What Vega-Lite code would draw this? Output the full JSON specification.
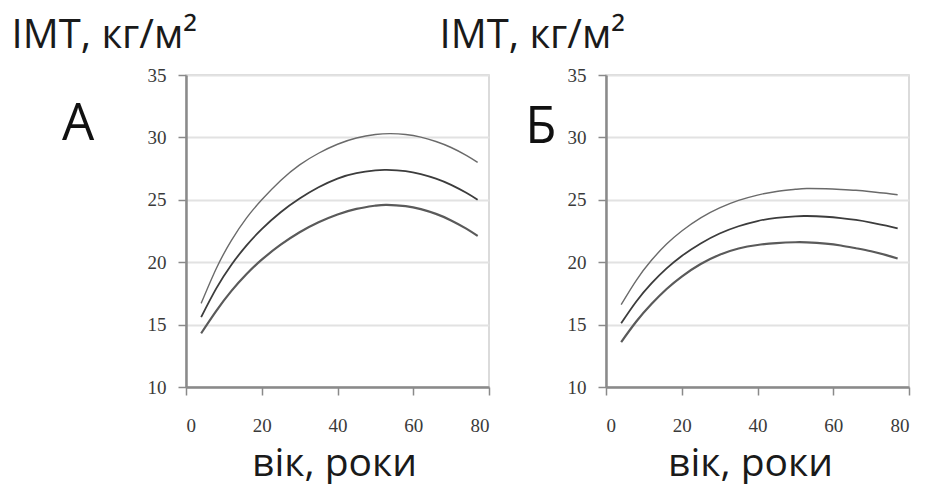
{
  "$schema": "https://vega.github.io/schema/vega-lite/v6.json",
  "background": "white",
  "padding": {"left": 10, "top": 14, "right": 10, "bottom": 0},
  "bounds": "flush",
  "spacing": 117,
  "config": {
    "view": {"stroke": "#cfcfcf", "strokeWidth": 1.5},
    "axis": {
      "labelFont": "Liberation Serif", "labelFontSize": 19, "labelColor": "#3a3a3a",
      "domainColor": "#8a8a8a", "domainWidth": 2.5, "tickColor": "#8a8a8a", "tickWidth": 1.5, "tickSize": 8,
      "titleFont": "Open Sans", "titleFontWeight": "normal", "titleColor": "#1a1a1a",
      "gridColor": "#e2e2e2", "gridWidth": 2
    }
  },
  "datasets": {
    "curves": [
      {"panel":"A","s":"upper","age":4,"bmi":16.7},{"panel":"A","s":"upper","age":8,"bmi":19.5},{"panel":"A","s":"upper","age":12,"bmi":21.75},{"panel":"A","s":"upper","age":16,"bmi":23.55},{"panel":"A","s":"upper","age":20,"bmi":25.0},{"panel":"A","s":"upper","age":25,"bmi":26.55},{"panel":"A","s":"upper","age":30,"bmi":27.8},{"panel":"A","s":"upper","age":35,"bmi":28.73},{"panel":"A","s":"upper","age":40,"bmi":29.45},{"panel":"A","s":"upper","age":45,"bmi":29.95},{"panel":"A","s":"upper","age":50,"bmi":30.23},{"panel":"A","s":"upper","age":54,"bmi":30.3},{"panel":"A","s":"upper","age":58,"bmi":30.23},{"panel":"A","s":"upper","age":62,"bmi":30.02},{"panel":"A","s":"upper","age":66,"bmi":29.67},{"panel":"A","s":"upper","age":70,"bmi":29.19},{"panel":"A","s":"upper","age":74,"bmi":28.56},{"panel":"A","s":"upper","age":77,"bmi":28.0},
      {"panel":"A","s":"median","age":4,"bmi":15.6},{"panel":"A","s":"median","age":8,"bmi":17.9},{"panel":"A","s":"median","age":12,"bmi":19.8},{"panel":"A","s":"median","age":16,"bmi":21.35},{"panel":"A","s":"median","age":20,"bmi":22.65},{"panel":"A","s":"median","age":25,"bmi":24.0},{"panel":"A","s":"median","age":30,"bmi":25.1},{"panel":"A","s":"median","age":35,"bmi":26.0},{"panel":"A","s":"median","age":40,"bmi":26.7},{"panel":"A","s":"median","age":45,"bmi":27.13},{"panel":"A","s":"median","age":50,"bmi":27.36},{"panel":"A","s":"median","age":53,"bmi":27.4},{"panel":"A","s":"median","age":58,"bmi":27.3},{"panel":"A","s":"median","age":62,"bmi":27.06},{"panel":"A","s":"median","age":66,"bmi":26.7},{"panel":"A","s":"median","age":70,"bmi":26.2},{"panel":"A","s":"median","age":74,"bmi":25.56},{"panel":"A","s":"median","age":77,"bmi":25.0},
      {"panel":"A","s":"lower","age":4,"bmi":14.3},{"panel":"A","s":"lower","age":8,"bmi":16.1},{"panel":"A","s":"lower","age":12,"bmi":17.7},{"panel":"A","s":"lower","age":16,"bmi":19.05},{"panel":"A","s":"lower","age":20,"bmi":20.2},{"panel":"A","s":"lower","age":25,"bmi":21.4},{"panel":"A","s":"lower","age":30,"bmi":22.4},{"panel":"A","s":"lower","age":35,"bmi":23.2},{"panel":"A","s":"lower","age":40,"bmi":23.82},{"panel":"A","s":"lower","age":45,"bmi":24.27},{"panel":"A","s":"lower","age":50,"bmi":24.53},{"panel":"A","s":"lower","age":53,"bmi":24.6},{"panel":"A","s":"lower","age":58,"bmi":24.49},{"panel":"A","s":"lower","age":62,"bmi":24.25},{"panel":"A","s":"lower","age":66,"bmi":23.87},{"panel":"A","s":"lower","age":70,"bmi":23.35},{"panel":"A","s":"lower","age":74,"bmi":22.69},{"panel":"A","s":"lower","age":77,"bmi":22.1},
      {"panel":"B","s":"upper","age":4,"bmi":16.6},{"panel":"B","s":"upper","age":8,"bmi":18.55},{"panel":"B","s":"upper","age":12,"bmi":20.15},{"panel":"B","s":"upper","age":16,"bmi":21.45},{"panel":"B","s":"upper","age":20,"bmi":22.5},{"panel":"B","s":"upper","age":25,"bmi":23.55},{"panel":"B","s":"upper","age":30,"bmi":24.35},{"panel":"B","s":"upper","age":35,"bmi":24.95},{"panel":"B","s":"upper","age":40,"bmi":25.38},{"panel":"B","s":"upper","age":45,"bmi":25.67},{"panel":"B","s":"upper","age":50,"bmi":25.84},{"panel":"B","s":"upper","age":53,"bmi":25.9},{"panel":"B","s":"upper","age":58,"bmi":25.88},{"panel":"B","s":"upper","age":62,"bmi":25.83},{"panel":"B","s":"upper","age":66,"bmi":25.76},{"panel":"B","s":"upper","age":70,"bmi":25.65},{"panel":"B","s":"upper","age":74,"bmi":25.52},{"panel":"B","s":"upper","age":77,"bmi":25.4},
      {"panel":"B","s":"median","age":4,"bmi":15.1},{"panel":"B","s":"median","age":8,"bmi":16.85},{"panel":"B","s":"median","age":12,"bmi":18.3},{"panel":"B","s":"median","age":16,"bmi":19.5},{"panel":"B","s":"median","age":20,"bmi":20.5},{"panel":"B","s":"median","age":25,"bmi":21.5},{"panel":"B","s":"median","age":30,"bmi":22.3},{"panel":"B","s":"median","age":35,"bmi":22.88},{"panel":"B","s":"median","age":40,"bmi":23.3},{"panel":"B","s":"median","age":45,"bmi":23.55},{"panel":"B","s":"median","age":50,"bmi":23.68},{"panel":"B","s":"median","age":53,"bmi":23.7},{"panel":"B","s":"median","age":58,"bmi":23.64},{"panel":"B","s":"median","age":62,"bmi":23.54},{"panel":"B","s":"median","age":66,"bmi":23.39},{"panel":"B","s":"median","age":70,"bmi":23.18},{"panel":"B","s":"median","age":74,"bmi":22.93},{"panel":"B","s":"median","age":77,"bmi":22.7},
      {"panel":"B","s":"lower","age":4,"bmi":13.6},{"panel":"B","s":"lower","age":8,"bmi":15.25},{"panel":"B","s":"lower","age":12,"bmi":16.65},{"panel":"B","s":"lower","age":16,"bmi":17.85},{"panel":"B","s":"lower","age":20,"bmi":18.85},{"panel":"B","s":"lower","age":25,"bmi":19.85},{"panel":"B","s":"lower","age":30,"bmi":20.6},{"panel":"B","s":"lower","age":35,"bmi":21.1},{"panel":"B","s":"lower","age":40,"bmi":21.38},{"panel":"B","s":"lower","age":45,"bmi":21.53},{"panel":"B","s":"lower","age":50,"bmi":21.6},{"panel":"B","s":"lower","age":53,"bmi":21.59},{"panel":"B","s":"lower","age":58,"bmi":21.49},{"panel":"B","s":"lower","age":62,"bmi":21.34},{"panel":"B","s":"lower","age":66,"bmi":21.12},{"panel":"B","s":"lower","age":70,"bmi":20.88},{"panel":"B","s":"lower","age":74,"bmi":20.57},{"panel":"B","s":"lower","age":77,"bmi":20.3}
    ]
  },
  "hconcat": [
    {
      "width": 303, "height": 312,
      "layer": [
        {
          "data": {"name": "curves"},
          "transform": [{"filter": "datum.panel === 'A'"}],
          "mark": {"type": "line", "interpolate": "natural"},
          "encoding": {
            "x": {"field": "age", "type": "quantitative", "scale": {"domain": [0, 80], "nice": false},
                  "axis": {"values": [0, 20, 40, 60, 80], "grid": false, "labelPadding": 21, "title": "вік, роки", "titleFontSize": 39, "titleBaseline": "alphabetic", "titleAlign": "center", "titleX": 148, "titleY": 88}},
            "y": {"field": "bmi", "type": "quantitative", "scale": {"domain": [10, 35], "nice": false},
                  "axis": {"values": [10, 15, 20, 25, 30, 35], "labelPadding": 12, "title": "ІМТ, кг/м²", "titleFontSize": 40, "titleAngle": 0, "titleAlign": "left", "titleBaseline": "alphabetic", "titleX": -175, "titleY": -28}},
            "detail": {"field": "s"},
            "color": {"field": "s", "type": "nominal", "scale": {"domain": ["upper", "median", "lower"], "range": ["#6a6a6a", "#3c3c3c", "#5a5a5a"]}, "legend": null},
            "strokeWidth": {"field": "s", "type": "nominal", "scale": {"domain": ["upper", "median", "lower"], "range": [1.4, 2.2, 1.6]}, "legend": null}
          }
        },
        {
          "data": {"values": [{"label": "А"}]},
          "mark": {"type": "text", "font": "Open Sans", "fontSize": 51, "align": "center", "baseline": "alphabetic", "color": "#111"},
          "encoding": {"text": {"field": "label"}, "x": {"datum": -28.5, "type": "quantitative"}, "y": {"datum": 29.8, "type": "quantitative"}}
        }
      ]
    },
    {
      "width": 303, "height": 312,
      "layer": [
        {
          "data": {"name": "curves"},
          "transform": [{"filter": "datum.panel === 'B'"}],
          "mark": {"type": "line", "interpolate": "natural"},
          "encoding": {
            "x": {"field": "age", "type": "quantitative", "scale": {"domain": [0, 80], "nice": false},
                  "axis": {"values": [0, 20, 40, 60, 80], "grid": false, "labelPadding": 21, "title": "вік, роки", "titleFontSize": 39, "titleBaseline": "alphabetic", "titleAlign": "center", "titleX": 144, "titleY": 88}},
            "y": {"field": "bmi", "type": "quantitative", "scale": {"domain": [10, 35], "nice": false},
                  "axis": {"values": [10, 15, 20, 25, 30, 35], "labelPadding": 12, "title": "ІМТ, кг/м²", "titleFontSize": 40, "titleAngle": 0, "titleAlign": "left", "titleBaseline": "alphabetic", "titleX": -167, "titleY": -28}},
            "detail": {"field": "s"},
            "color": {"field": "s", "type": "nominal", "scale": {"domain": ["upper", "median", "lower"], "range": ["#6a6a6a", "#3c3c3c", "#5a5a5a"]}, "legend": null},
            "strokeWidth": {"field": "s", "type": "nominal", "scale": {"domain": ["upper", "median", "lower"], "range": [1.4, 2.2, 1.6]}, "legend": null}
          }
        },
        {
          "data": {"values": [{"label": "Б"}]},
          "mark": {"type": "text", "font": "Open Sans", "fontSize": 51, "align": "center", "baseline": "alphabetic", "color": "#111"},
          "encoding": {"text": {"field": "label"}, "x": {"datum": -17.2, "type": "quantitative"}, "y": {"datum": 29.55, "type": "quantitative"}}
        }
      ]
    }
  ]
}
